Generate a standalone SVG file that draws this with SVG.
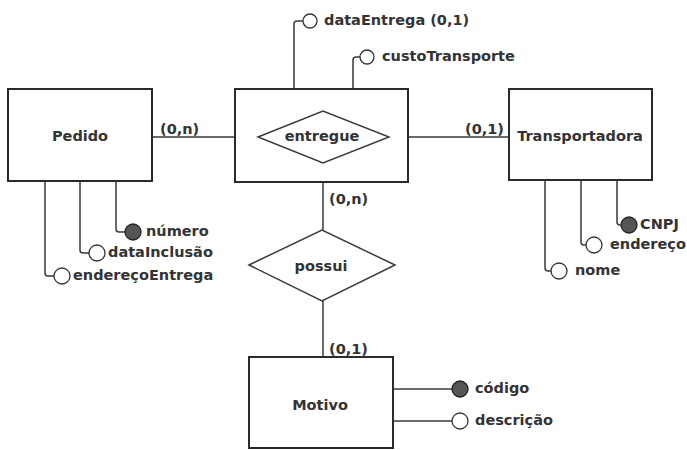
<svg xmlns="http://www.w3.org/2000/svg" width="687" height="450" viewBox="0 0 687 450">
<style>
.ent{fill:#fff;stroke:#2a2a2a;stroke-width:2}
.rel{fill:#fff;stroke:#3a3a3a;stroke-width:1.5}
.ln{fill:none;stroke:#3a3a3a;stroke-width:1.5}
.ao{fill:#fff;stroke:#333;stroke-width:1.3}
.ak{fill:#555;stroke:#222;stroke-width:1.3}
text{font-family:"DejaVu Sans",Verdana,sans-serif;font-weight:bold;font-size:14.5px;fill:#333}
.c{text-anchor:middle;dominant-baseline:central}
.l{dominant-baseline:central}
</style>
<rect width="687" height="450" fill="#fff"/>
<g id="connectors">
<line class="ln" x1="152" y1="137" x2="258" y2="137"/>
<line class="ln" x1="389" y1="137" x2="509" y2="137"/>
<line class="ln" x1="323" y1="182" x2="323" y2="230"/>
<line class="ln" x1="323" y1="301" x2="323" y2="357"/>
<text class="l" x="160" y="129">(0,n)</text>
<text class="l" x="465" y="129">(0,1)</text>
<text class="l" x="329" y="199">(0,n)</text>
<text class="l" x="329" y="349">(0,1)</text>
</g>
<g id="Pedido">
<rect class="ent" x="8" y="89" width="144" height="92"/>
<text class="c" x="80" y="136">Pedido</text>
</g>
<g id="entregue">
<rect class="ent" x="235" y="89" width="173" height="93"/>
<polygon class="rel" points="258,137 323,111 389,137 323,163"/>
<text class="c" x="322" y="136">entregue</text>
</g>
<g id="Transportadora">
<rect class="ent" x="509" y="89" width="143" height="91"/>
<text class="c" x="580" y="136">Transportadora</text>
</g>
<g id="possui">
<polygon class="rel" points="249,265 322,230 395,265 322,301"/>
<text class="c" x="321" y="266">possui</text>
</g>
<g id="Motivo">
<rect class="ent" x="249" y="357" width="144" height="91"/>
<text class="c" x="320" y="405">Motivo</text>
</g>
<g id="attr-dataEntrega">
<path class="ln" d="M294,89 V24 Q294,21 297,21 H303"/>
<circle class="ao" cx="310" cy="21" r="7"/>
<text class="l" x="324" y="20">dataEntrega (0,1)</text>
</g>
<g id="attr-custoTransporte">
<path class="ln" d="M353,89 V60 Q353,57 356,57 H360"/>
<circle class="ao" cx="367" cy="57" r="7"/>
<text class="l" x="382" y="56">custoTransporte</text>
</g>
<g id="attr-numero">
<path class="ln" d="M116,181 V229 Q116,232 119,232 H125"/>
<circle class="ak" cx="133" cy="232" r="8"/>
<text class="l" x="146" y="231">número</text>
</g>
<g id="attr-dataInclusao">
<path class="ln" d="M80,181 V250 Q80,253 83,253 H89"/>
<circle class="ao" cx="97" cy="253" r="8"/>
<text class="l" x="108" y="252">dataInclusão</text>
</g>
<g id="attr-enderecoEntrega">
<path class="ln" d="M45,181 V273 Q45,276 48,276 H54"/>
<circle class="ao" cx="62" cy="276" r="8"/>
<text class="l" x="73" y="275">endereçoEntrega</text>
</g>
<g id="attr-CNPJ">
<path class="ln" d="M617,180 V222 Q617,225 620,225 H621"/>
<circle class="ak" cx="629" cy="225" r="8"/>
<text class="l" x="640" y="224">CNPJ</text>
</g>
<g id="attr-endereco">
<path class="ln" d="M581,180 V242 Q581,245 584,245 H586"/>
<circle class="ao" cx="594" cy="245" r="8"/>
<text class="l" x="610" y="244">endereço</text>
</g>
<g id="attr-nome">
<path class="ln" d="M545,180 V268 Q545,271 548,271 H551"/>
<circle class="ao" cx="559" cy="271" r="8"/>
<text class="l" x="575" y="270">nome</text>
</g>
<g id="attr-codigo">
<line class="ln" x1="393" y1="389" x2="452" y2="389"/>
<circle class="ak" cx="460" cy="389" r="8"/>
<text class="l" x="475" y="388">código</text>
</g>
<g id="attr-descricao">
<line class="ln" x1="393" y1="421" x2="452" y2="421"/>
<circle class="ao" cx="460" cy="421" r="8"/>
<text class="l" x="475" y="420">descrição</text>
</g>
</svg>
